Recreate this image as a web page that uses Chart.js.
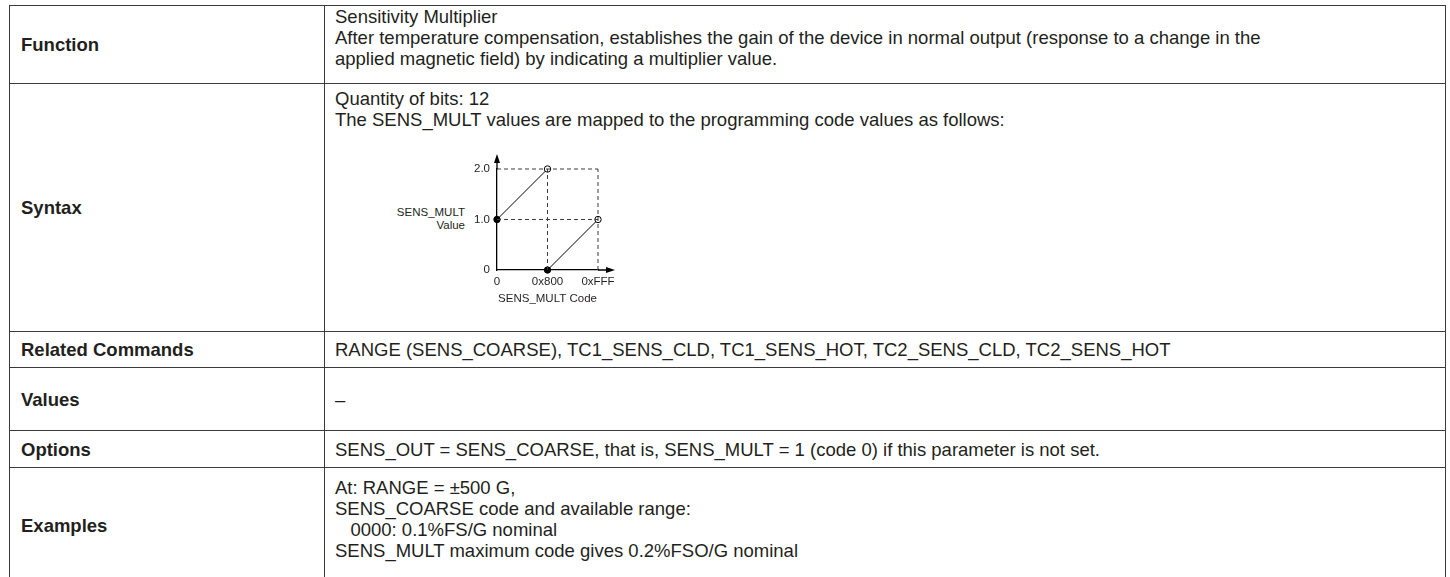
<!DOCTYPE html>
<html>
<head>
<meta charset="utf-8">
<script src="https://cdn.jsdelivr.net/npm/chart.js@4.4.0/dist/chart.umd.min.js"></script>
<style>
  body { margin: 0; background: #fff; font-family: "Liberation Sans", Arial, sans-serif; color: #231f20; }
  table { position: absolute; left: 9px; top: 5px; width: 1437px; border-collapse: collapse; table-layout: fixed; font-size: 18.5px; line-height: 21px; }
  td { border: 1.5px solid #3a3a3a; padding: 0 10px; vertical-align: middle; }
  td.h { font-weight: bold; padding-left: 11px; }
  td.top { vertical-align: top; padding-top: 0; }
  #chartBox { position: absolute; left: 440px; top: 140px; width: 190px; height: 170px; }
  #yLabel { position: absolute; left: 380px; top: 206px; width: 85px; text-align: right; font-size: 11.5px; line-height: 13px; }
</style>
</head>
<body>
<table>
  <colgroup><col style="width:315px"><col></colgroup>
  <tr style="height:78px">
    <td class="h">Function</td>
    <td class="top" style="padding-top:0">Sensitivity Multiplier<br>After temperature compensation, establishes the gain of the device in normal output (response to a change in the<br>applied magnetic field) by indicating a multiplier value.</td>
  </tr>
  <tr style="height:248px">
    <td class="h">Syntax</td>
    <td class="top" style="padding-top:4px">Quantity of bits: 12<br>The SENS_MULT values are mapped to the programming code values as follows:</td>
  </tr>
  <tr style="height:36px">
    <td class="h">Related Commands</td>
    <td>RANGE (SENS_COARSE), TC1_SENS_CLD, TC1_SENS_HOT, TC2_SENS_CLD, TC2_SENS_HOT</td>
  </tr>
  <tr style="height:63px">
    <td class="h">Values</td>
    <td>&ndash;</td>
  </tr>
  <tr style="height:37px">
    <td class="h">Options</td>
    <td>SENS_OUT = SENS_COARSE, that is, SENS_MULT = 1 (code 0) if this parameter is not set.</td>
  </tr>
  <tr style="height:115px">
    <td class="h">Examples</td>
    <td class="top" style="padding-top:9px">At: RANGE = &plusmn;500 G,<br>SENS_COARSE code and available range:<br>&nbsp;&nbsp;&nbsp;0000: 0.1%FS/G nominal<br>SENS_MULT maximum code gives 0.2%FSO/G nominal</td>
  </tr>
</table>

<div id="yLabel">SENS_MULT<br>Value</div>
<div id="chartBox"><canvas id="sensMult"></canvas></div>

<script>
// code axis (x) and value axis (y)
const codeTicks = [0, 2048, 4095];
const codeLabels = ['0', '0x800', '0xFFF'];
const valueTicks = [0, 1, 2];
const valueLabels = ['0', '1.0', '2.0'];

// the two ramps of the mapping
const lowCodes = [0, 2048];
const lowValues = [1, 2];
const highCodes = [2048, 4095];
const highValues = [0, 1];

function toPoints(xs, ys) {
    return xs.map((x, i) => ({ x: x, y: ys[i] }))
}

// dashed guide lines through the tick positions
const guides = [
    toPoints([codeTicks[0], codeTicks[2]], [valueTicks[2], valueTicks[2]]),
    toPoints([codeTicks[0], codeTicks[2]], [valueTicks[1], valueTicks[1]]),
    toPoints([codeTicks[1], codeTicks[1]], [valueTicks[0], valueTicks[2]]),
    toPoints([codeTicks[2], codeTicks[2]], [valueTicks[0], valueTicks[2]])
]

const guideSets = guides.map(g => ({
    data: g,
    borderColor: '#3a3a3a',
    borderWidth: 1,
    borderDash: [4, 3],
    pointRadius: 0,
    clip: false
}))

function ramp(xs, ys) {
    return {
        data: toPoints(xs, ys),
        borderColor: '#000',
        borderWidth: 1,
        pointRadius: 3.2,
        pointBorderWidth: 1,
        pointBorderColor: '#000',
        pointBackgroundColor: ['#000', '#fff'],
        clip: false
    }
}

// axis arrows past the last tick
const arrows = {
    id: 'arrows',
    afterDraw(chart) {
        const { ctx, chartArea: a } = chart
        ctx.save()
        ctx.strokeStyle = '#000'
        ctx.fillStyle = '#000'
        ctx.lineWidth = 1.3
        ctx.beginPath()
        ctx.moveTo(a.left, a.top)
        ctx.lineTo(a.left, a.top - 8)
        ctx.moveTo(a.right, a.bottom)
        ctx.lineTo(a.right + 10, a.bottom)
        ctx.stroke()
        ctx.beginPath()
        ctx.moveTo(a.left, a.top - 15)
        ctx.lineTo(a.left - 3, a.top - 6)
        ctx.lineTo(a.left + 3, a.top - 6)
        ctx.fill()
        ctx.beginPath()
        ctx.moveTo(a.right + 17, a.bottom)
        ctx.lineTo(a.right + 8, a.bottom - 3)
        ctx.lineTo(a.right + 8, a.bottom + 3)
        ctx.fill()
        ctx.restore()
    }
}

Chart.defaults.font.family = '"Liberation Sans", Arial, sans-serif'
Chart.defaults.font.size = 11.5
Chart.defaults.color = '#231f20'

new Chart(document.getElementById('sensMult'), {
    type: 'line',
    data: {
        datasets: [...guideSets, ramp(lowCodes, lowValues), ramp(highCodes, highValues)]
    },
    options: {
        responsive: true,
        maintainAspectRatio: false,
        animation: false,
        layout: { padding: { top: 29, right: 32, left: 0, bottom: 0 } },
        plugins: { legend: { display: false }, tooltip: { enabled: false } },
        scales: {
            x: {
                type: 'linear',
                min: 0,
                max: codeTicks[2],
                grid: { display: false, drawTicks: false },
                border: { display: true, color: '#000', width: 1.3 },
                afterBuildTicks: s => { s.ticks = codeTicks.map(v => ({ value: v })) },
                afterFit: s => { s.height = 40 },
                ticks: {
                    padding: 5,
                    maxRotation: 0,
                    callback: v => codeLabels[codeTicks.indexOf(v)]
                },
                title: { display: true, text: 'SENS_MULT Code', padding: { top: 4, bottom: 4 } }
            },
            y: {
                type: 'linear',
                min: 0,
                max: valueTicks[2],
                grid: { display: false, drawTicks: false },
                border: { display: true, color: '#000', width: 1.3 },
                afterBuildTicks: s => { s.ticks = valueTicks.map(v => ({ value: v })) },
                afterFit: s => { s.width = 57 },
                ticks: {
                    padding: 7,
                    callback: v => valueLabels[valueTicks.indexOf(v)]
                }
            }
        }
    },
    plugins: [arrows]
});
</script>
</body>
</html>
